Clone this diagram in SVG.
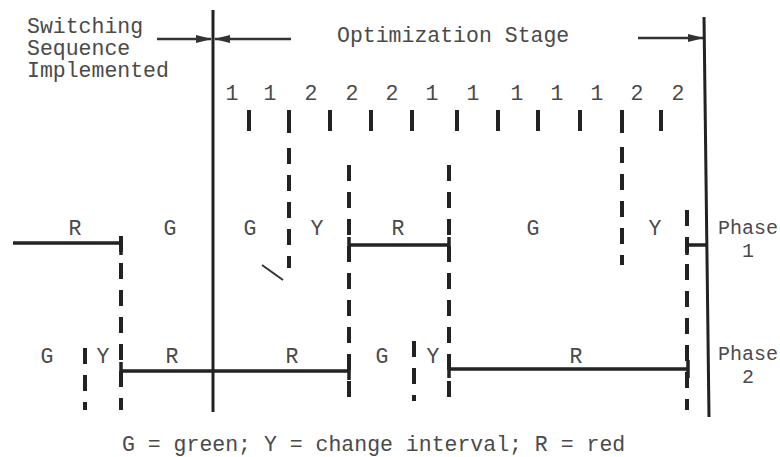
<svg xmlns="http://www.w3.org/2000/svg" width="780" height="457" viewBox="0 0 780 457">
<style>
text{font-family:"Liberation Mono","Courier New",monospace;font-size:21.5px;fill:#4a4a4a}
.n{text-anchor:middle}
.ph{font-size:20px}
.solid{stroke:#222;stroke-width:3;fill:none}
.bar{stroke:#222;stroke-width:3.5;fill:none}
.dash{stroke:#222;stroke-width:4;fill:none;stroke-dasharray:16 11}
.tick{stroke:#222;stroke-width:4;fill:none}
.arr{stroke:#333;stroke-width:2.5;fill:none;marker-end:url(#ah)}
</style>
<defs>
<marker id="ah" viewBox="0 0 16 8" refX="15" refY="4" markerWidth="16" markerHeight="8" markerUnits="userSpaceOnUse" orient="auto">
<path d="M0,0 L16,4 L0,8 Z" fill="#333"/>
</marker>
</defs>
<rect width="780" height="457" fill="#fff"/>

<g id="titles">
<text x="27" y="33">Switching</text>
<text x="27" y="55">Sequence</text>
<text x="27" y="77">Implemented</text>
<text x="337" y="42">Optimization Stage</text>
</g>

<g id="connectors">
<path class="arr" d="M157,39 H211"/>
<path class="arr" d="M291,39 H215"/>
<path class="arr" d="M638,38 H703"/>
<path class="solid" d="M213,10 V412"/>
<path class="solid" d="M704,17 L709,417"/>
</g>

<g id="sequence">
<text class="n" x="232" y="100">1</text>
<text class="n" x="270" y="100">1</text>
<text class="n" x="311" y="100">2</text>
<text class="n" x="352" y="100">2</text>
<text class="n" x="392" y="100">2</text>
<text class="n" x="432" y="100">1</text>
<text class="n" x="473" y="100">1</text>
<text class="n" x="517" y="100">1</text>
<text class="n" x="557" y="100">1</text>
<text class="n" x="597" y="100">1</text>
<text class="n" x="637" y="100">2</text>
<text class="n" x="678" y="100">2</text>
<path class="tick" d="M249,110V131 M289,110V133 M330,110V131 M371,110V131 M412,110V131 M457,110V131 M498,110V131 M538,110V131 M580,110V131 M622,110V133 M661,110V131"/>
</g>

<g id="dashed">
<path class="dash" d="M289,148 V268"/>
<path class="dash" d="M622,147 V265"/>
<path class="dash" d="M349,165 V403"/>
<path class="dash" d="M449,165 V403"/>
<path class="dash" d="M687,210 V410"/>
<path class="dash" d="M121,236 V410"/>
<path class="dash" d="M85,348 V410"/>
<path class="dash" d="M414,341 V401"/>
<path stroke="#333" stroke-width="2" fill="none" d="M262,265 L283,280"/>
</g>

<g id="phase1">
<path class="bar" d="M13,243 H121 M121,236 V255"/>
<path class="bar" d="M349,245 H449 M349,237 V255 M449,237 V255"/>
<path class="bar" d="M687,245 H706 M687,237 V255"/>
<text class="n" x="75" y="235">R</text>
<text class="n" x="170" y="235">G</text>
<text class="n" x="250" y="235">G</text>
<text class="n" x="317" y="235">Y</text>
<text class="n" x="398" y="235">R</text>
<text class="n" x="533" y="235">G</text>
<text class="n" x="655" y="235">Y</text>
<text class="n ph" x="748" y="234">Phase</text>
<text class="n ph" x="748" y="257">1</text>
</g>

<g id="phase2">
<path class="bar" d="M121,371 H349 M121,362 V380 M349,362 V380"/>
<path class="bar" d="M449,369 H688 M449,360 V378 M688,360 V378"/>
<text class="n" x="47" y="363">G</text>
<text class="n" x="103" y="363">Y</text>
<text class="n" x="172" y="363">R</text>
<text class="n" x="292" y="363">R</text>
<text class="n" x="382" y="363">G</text>
<text class="n" x="433" y="363">Y</text>
<text class="n" x="576" y="363">R</text>
<text class="n ph" x="748" y="360">Phase</text>
<text class="n ph" x="748" y="383">2</text>
</g>

<g id="legend">
<text x="122" y="451">G = green; Y = change interval; R = red</text>
</g>
</svg>
